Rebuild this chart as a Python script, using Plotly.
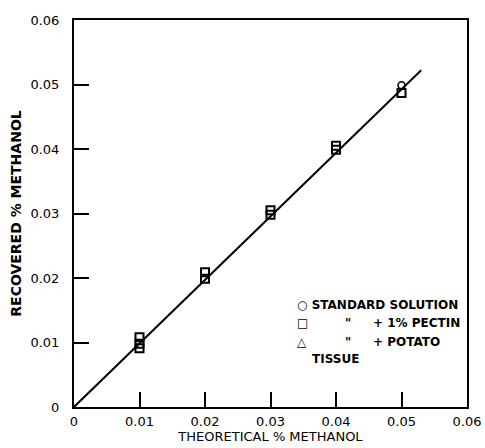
import plotly.graph_objects as go

theoretical_sq = [0.01, 0.01, 0.01, 0.02, 0.02, 0.03, 0.03, 0.04, 0.04, 0.05]
recovered_sq = [0.0108, 0.0098, 0.0091, 0.0209, 0.0199, 0.0305, 0.0298, 0.0405, 0.0399, 0.0487]
theoretical_circ = [0.05]
recovered_circ = [0.0499]
line_x = [0.0, 0.053]
line_y = [0.0, 0.0522]
tick_vals = [0, 0.01, 0.02, 0.03, 0.04, 0.05, 0.06]
tick_text = ["0", "0.01", "0.02", "0.03", "0.04", "0.05", "0.06"]

FONT = "DejaVu Sans"

fig = go.Figure()
fig.add_trace(go.Scatter(x=line_x, y=line_y, mode="lines",
                         line=dict(color="black", width=2), showlegend=False,
                         hoverinfo="skip"))
fig.add_trace(go.Scatter(x=theoretical_sq, y=recovered_sq, mode="markers",
                         marker=dict(symbol="square-open", size=8, color="black",
                                     line=dict(width=2)), showlegend=False))
fig.add_trace(go.Scatter(x=theoretical_circ, y=recovered_circ, mode="markers",
                         marker=dict(symbol="circle-open", size=7, color="black",
                                     line=dict(width=1.5)), showlegend=False))

axis_common = dict(range=[0, 0.06], tickmode="array", tickvals=tick_vals, ticktext=tick_text,
                   ticks="inside", ticklen=15, tickwidth=2, tickcolor="black",
                   showline=True, linecolor="black", linewidth=2, mirror=True,
                   showgrid=False, zeroline=False, automargin=False,
                   tickfont=dict(family=FONT, size=13, color="black"))

fig.update_xaxes(**axis_common, ticklabelstandoff=1,
                 title=dict(text="THEORETICAL % METHANOL", standoff=1,
                            font=dict(family=FONT, size=13, color="black")))
fig.update_yaxes(**axis_common, ticklabelstandoff=10,
                 title=dict(text="<b>RECOVERED % METHANOL</b>", standoff=6,
                            font=dict(family=FONT, size=14, color="black")))

ann = []
ann.append(dict(x=0.0337, y=0.01581, text="<b>○ STANDARD SOLUTION</b>", xanchor="left"))
ann.append(dict(x=0.0337, y=0.01302, text="<b>□</b>", xanchor="left"))
ann.append(dict(x=0.0418, y=0.01302, text="<b>\"</b>", xanchor="center"))
ann.append(dict(x=0.0453, y=0.01302, text="<b>+ 1% PECTIN</b>", xanchor="left"))
ann.append(dict(x=0.0337, y=0.01008, text="<b>△</b>", xanchor="left"))
ann.append(dict(x=0.0418, y=0.01008, text="<b>\"</b>", xanchor="center"))
ann.append(dict(x=0.0453, y=0.01008, text="<b>+ POTATO</b>", xanchor="left"))
ann.append(dict(x=0.0360, y=0.00744, text="<b>TISSUE</b>", xanchor="left"))
for a in ann:
    a.update(xref="x", yref="y", showarrow=False, yanchor="middle",
             font=dict(family=FONT, size=12, color="black"))
fig.update_layout(annotations=ann)

fig.update_layout(width=485, height=448,
                  margin=dict(l=74, r=18, t=20, b=41),
                  plot_bgcolor="white", paper_bgcolor="white",
                  font=dict(family=FONT, color="black"))

fig.write_html("out.html", config={"displayModeBar": False},
               post_script="document.body.style.margin='0';document.body.style.overflow='hidden';")
